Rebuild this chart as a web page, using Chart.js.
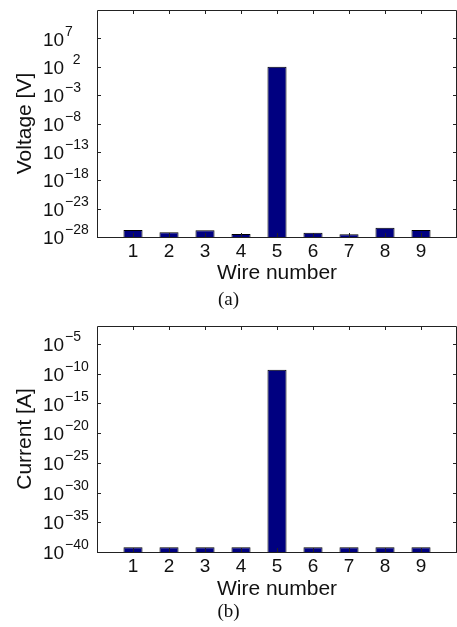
<!DOCTYPE html>
<html>
<head>
<meta charset="utf-8">
<script src="https://cdn.jsdelivr.net/npm/chart.js@4/dist/chart.umd.min.js"></script>
<style>
  html, body { margin: 0; padding: 0; background: #fff; }
  #wrap { position: relative; width: 457px; height: 627px; overflow: hidden; }
  #c1 { position: absolute; left: 0; top: 0; }
  #c2 { position: absolute; left: 0; top: 310px; }
</style>
</head>
<body>
<div id="wrap">
  <canvas id="c1" width="457" height="310"></canvas>
  <canvas id="c2" width="457" height="317"></canvas>
</div>
<script>
// ---- data ----
const wires = [1, 2, 3, 4, 5, 6, 7, 8, 9];
const voltage = [1.7e-27, 6.7e-28, 1.5e-27, 3.4e-28, 1.0e2, 5.7e-28, 3.0e-28, 4.3e-27, 1.7e-27];
const current = [6e-40, 6e-40, 6e-40, 6e-40, 4.5e-10, 6e-40, 6e-40, 6e-40, 6e-40];
const voltageTickExps = [-28, -23, -18, -13, -8, -3, 2, 7];
const voltageTickExpLabels = ['−28', '−23', '−18', '−13', '−8', '−3', '  2', '7'];
const currentTickExps = [-40, -35, -30, -25, -20, -15, -10, -5];
const currentTickExpLabels = ['−40', '−35', '−30', '−25', '−20', '−15', '−10', '−5'];
const tickBase = '10';
const voltageRange = [1e-28, 1e12];
const currentRange = [1e-40, 1e-2];
const xLabel = 'Wire number';

const SANS = "'Liberation Sans', Arial, sans-serif";
const SERIF = "'Liberation Serif', 'Times New Roman', serif";
const INK = '#111';
const AXIS = '#222';

const boxPlugin = {
  id: 'matlabBox',
  afterDatasetsDraw(chart) {
    const { ctx, chartArea: a } = chart;
    const y = chart.scales.y, x = chart.scales.x;
    ctx.save();
    ctx.strokeStyle = AXIS;
    ctx.lineWidth = 1;
    ctx.beginPath();
    ctx.rect(a.left + 0.5, a.top + 0.5, a.right - a.left - 1, a.bottom - a.top);
    ctx.stroke();
    ctx.beginPath();
    y.ticks.forEach(t => {
      const py = Math.round(y.getPixelForValue(t.value)) + 0.5;
      ctx.moveTo(a.left, py); ctx.lineTo(a.left + 4, py);
      ctx.moveTo(a.right, py); ctx.lineTo(a.right - 4, py);
    });
    x.ticks.forEach(t => {
      const px = Math.round(x.getPixelForValue(t.value)) + 0.5;
      ctx.moveTo(px, a.top); ctx.lineTo(px, a.top + 4);
      ctx.moveTo(px, a.bottom); ctx.lineTo(px, a.bottom - 4);
    });
    ctx.stroke();
    ctx.restore();
  }
};

function makeChart(id, values, range, tickExps, expLabels, yTitle, caption, cfg) {
  const setTicks = s => { s.ticks = tickExps.map(e => ({ value: Math.pow(10, e) })); };
  return new Chart(document.getElementById(id), {
    type: 'bar',
    data: {
      datasets: [{
        data: wires.map((w, i) => ({ x: w, y: values[i] })),
        backgroundColor: '#000080',
        borderColor: '#000000',
        borderWidth: 1,
        categoryPercentage: 1,
        barPercentage: 0.53
      }]
    },
    options: {
      responsive: false,
      animation: false,
      events: [],
      layout: { padding: { top: cfg.top, left: 0, right: 0, bottom: 0 } },
      plugins: {
        legend: { display: false },
        tooltip: { enabled: false },
        title: {
          display: true,
          position: 'bottom',
          text: caption,
          color: INK,
          font: { family: SERIF, size: 19, weight: 'normal', lineHeight: 1.0 },
          padding: { top: 0, bottom: cfg.capPad }
        }
      },
      scales: {
        x: {
          type: 'linear',
          min: 0, max: 10,
          offset: false,
          grid: { display: false, drawTicks: false, offset: false },
          border: { display: false },
          afterBuildTicks(s) { s.ticks = wires.map(v => ({ value: v })); },
          afterFit(s) { s.height = cfg.xHeight; s.paddingLeft = 0; s.paddingRight = 0; },
          ticks: {
            color: INK, padding: 3, autoSkip: false, maxRotation: 0,
            font: { family: SANS, size: 19, lineHeight: 1.2 },
            callback: v => String(v)
          },
          title: {
            display: true, text: xLabel, color: INK,
            font: { family: SANS, size: 21, lineHeight: 1.2 },
            padding: { top: 0, bottom: cfg.xTitlePad }
          }
        },
        // exponent part of the tick labels (data axis)
        y: {
          type: 'logarithmic',
          position: 'left',
          weight: 0,
          min: range[0], max: range[1],
          bounds: 'data',
          grid: { display: false, drawTicks: false },
          border: { display: false },
          afterBuildTicks: setTicks,
          afterFit(s) { s.width = 32; s.paddingTop = 0; s.paddingBottom = 0; },
          ticks: {
            color: INK, crossAlign: 'far', autoSkip: false, labelOffset: -6.5,
            font: { family: SANS, size: 14, lineHeight: 1.2 },
            callback: (v, i) => expLabels[i]
          }
        },
        // base "10" of the tick labels
        yb: {
          type: 'logarithmic',
          position: 'left',
          weight: 5,
          min: range[0], max: range[1],
          bounds: 'data',
          grid: { display: false, drawTicks: false },
          border: { display: false },
          afterBuildTicks: setTicks,
          afterFit(s) { s.width = 22; s.paddingTop = 0; s.paddingBottom = 0; },
          ticks: {
            color: INK, crossAlign: 'far', autoSkip: false, labelOffset: 2,
            font: { family: SANS, size: 19, lineHeight: 1.2 },
            callback: () => tickBase
          }
        },
        yt: {
          type: 'logarithmic',
          position: 'left',
          weight: 10,
          min: range[0], max: range[1],
          grid: { display: false, drawTicks: false },
          border: { display: false },
          ticks: { display: false },
          afterFit(s) { s.width = 43; s.paddingTop = 0; s.paddingBottom = 0; },
          title: {
            display: true, text: yTitle, color: INK,
            font: { family: SANS, size: 21, lineHeight: 1.2 },
            padding: { top: 13, bottom: 0 }
          }
        }
      }
    },
    plugins: [boxPlugin]
  });
}

makeChart('c1', voltage, voltageRange, voltageTickExps, voltageTickExpLabels, 'Voltage [V]', '(a)',
  { top: 10, xHeight: 54, xTitlePad: 5, capPad: 0 });
makeChart('c2', current, currentRange, currentTickExps, currentTickExpLabels, 'Current [A]', '(b)',
  { top: 16, xHeight: 50.5, xTitlePad: 1, capPad: 5.5 });
</script>
</body>
</html>
